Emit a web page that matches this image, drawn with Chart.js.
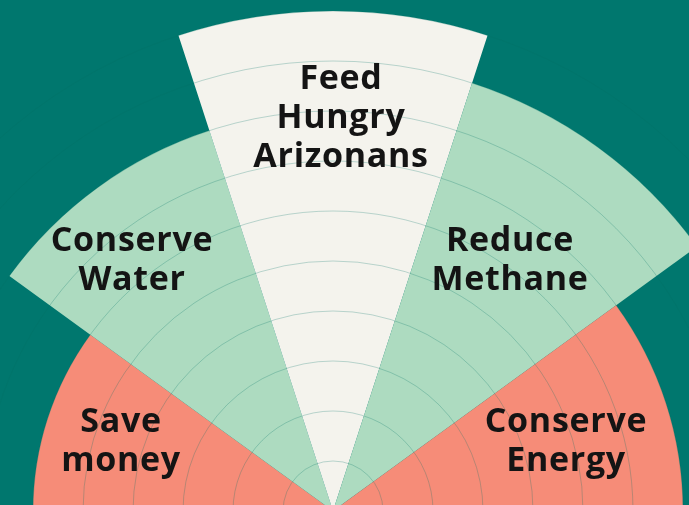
<!DOCTYPE html>
<html>
<head>
<meta charset="utf-8">
<script src="https://cdn.jsdelivr.net/npm/chart.js@4"></script>
<style>
  html, body {
    margin: 0;
    width: 689px;
    height: 505px;
    overflow: hidden;
    background: #00776e;
  }
  #goals {
    position: absolute;
    left: -167px;
    top: 11px;
  }
</style>
</head>
<body>
<canvas id="goals" width="1000" height="1000"></canvas>
<script>
// Goals, left to right across the half circle
const categories = [
  ["Save", "money"],
  ["Conserve", "Water"],
  ["Feed", "Hungry", "Arizonans"],
  ["Reduce", "Methane"],
  ["Conserve", "Energy"],
];
const importance = [6, 8, 10, 9, 7];
const sliceColors = ["#f68c78", "#addbc0", "#f4f3ed", "#addbc0", "#f68c78"];

// where each label block sits, relative to the centre of the chart
const labelOffsets = [
  [-212, -71],
  [-201, -252],
  [8, -395],
  [177, -252],
  [233, -71],
];

// Helper plugin to write the goal names inside the slices
const sliceLabels = {
  id: "sliceLabels",
  afterDraw(chart) {
    const ctx = chart.ctx;
    const scale = chart.scales.r;
    const lineHeight = 39;
    ctx.save();
    ctx.font = "700 34px 'Open Sans'";
    ctx.fillStyle = "#141414";
    ctx.textAlign = "center";
    ctx.textBaseline = "middle";
    if ("letterSpacing" in ctx) ctx.letterSpacing = "0.7px";
    chart.data.labels.forEach((lines, i) => {
      const cx = scale.xCenter + labelOffsets[i][0];
      const cy = scale.yCenter + labelOffsets[i][1];
      const top = cy - ((lines.length - 1) * lineHeight) / 2;
      lines.forEach((line, j) => {
        ctx.fillText(line, cx, top + j * lineHeight + 2);
      });
    });
    ctx.restore();
  },
};

const ctx = document.getElementById("goals").getContext("2d");
new Chart(ctx, {
  type: "polarArea",
  data: {
    labels: categories,
    datasets: [
      {
        data: importance,
        backgroundColor: sliceColors,
        borderWidth: 0,
        angle: 180 / importance.length,
      },
    ],
  },
  options: {
    responsive: false,
    animation: false,
    layout: { padding: 0 },
    plugins: {
      legend: { display: false },
      tooltip: { enabled: false },
    },
    scales: {
      r: {
        min: 0,
        max: 10,
        startAngle: -90,
        ticks: { display: false, stepSize: 1 },
        grid: { color: "rgba(0, 110, 100, 0.25)", lineWidth: 1, z: 1 },
        angleLines: { display: false },
        pointLabels: { display: false },
      },
    },
  },
  plugins: [sliceLabels],
});
</script>
</body>
</html>
